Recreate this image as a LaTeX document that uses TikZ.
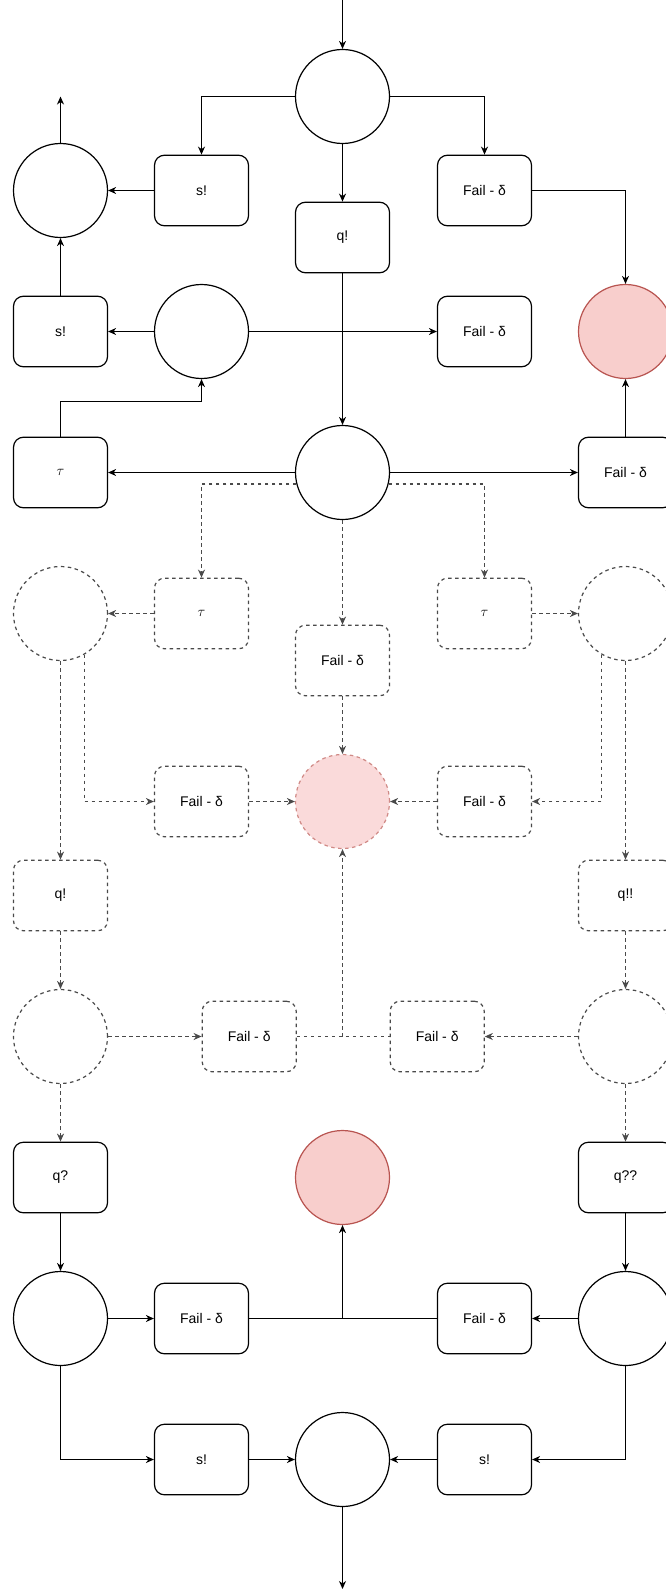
\documentclass[tikz,border=0pt]{standalone}
\usepackage{fontspec}
\setmainfont{Liberation Sans}
\usetikzlibrary{arrows.meta}

\definecolor{redfill}{HTML}{F8CECC}
\definecolor{redline}{HTML}{B85450}
\definecolor{softfill}{HTML}{FADADA}
\definecolor{softline}{HTML}{D08A86}
\definecolor{dashgray}{HTML}{4A4A4A}

\begin{document}
\begin{tikzpicture}[x=1pt,y=-1pt,
  every node/.style={font=\fontsize{14pt}{16pt}\selectfont, text=black},
  state/.style={circle, draw, line width=1.2pt, minimum size=94pt, inner sep=0pt, fill=white},
  act/.style={rectangle, draw, rounded corners=10pt, line width=1.2pt,
              minimum width=94pt, minimum height=70.6pt, inner sep=0pt, fill=white},
  failstate/.style={state, draw=redline, fill=redfill},
  ghoststate/.style={state, draw=dashgray, dash pattern=on 3.5pt off 3.5pt},
  ghostact/.style={act, draw=dashgray, dash pattern=on 3.5pt off 3.5pt},
  ghostfail/.style={state, draw=softline, fill=softfill, dash pattern=on 3.5pt off 3.5pt},
  link/.style={line width=1.2pt, -{Stealth[length=8pt,width=7pt,inset=2.5pt]}},
  wire/.style={line width=1.2pt},
  glink/.style={link, draw=dashgray, dash pattern=on 3.5pt off 3.5pt},
  gwire/.style={wire, draw=dashgray, dash pattern=on 3.5pt off 3.5pt}
]
\useasboundingbox (0,0) rectangle (666,1589);
\clip (0,0) rectangle (666,1589);

% ---- upper part (solid) ----
\node[state] (c0) at (342.5,96.5) {};
\node[act]   (sA) at (201.5,190.5) {s!};
\node[state] (L1) at (60.5,190.5) {};
\node[act]   (qA) at (342.5,237.5) {q!};
\node[act]   (fA) at (484.5,190.5) {Fail - δ};
\node[act]   (sB) at (60.5,331.5) {s!};
\node[state] (c1) at (201.5,331.5) {};
\node[act]   (fB) at (484.5,331.5) {Fail - δ};
\node[failstate] (redA) at (625.5,331.5) {};
\node[act]   (tA) at (60.5,472.5) {$\tau$};
\node[state] (c2) at (342.5,472.5) {};
\node[act]   (fC) at (625.5,472.5) {Fail - δ};

% ---- middle part (dashed) ----
\node[ghostact]   (tB) at (201.5,613.5) {$\tau$};
\node[ghoststate] (dL) at (60.5,613.5) {};
\node[ghostact]   (fD) at (342.5,660.5) {Fail - δ};
\node[ghostact]   (tC) at (484.5,613.5) {$\tau$};
\node[ghoststate] (dR) at (625.5,613.5) {};
\node[ghostact]   (fE) at (201.5,801.5) {Fail - δ};
\node[ghostfail]  (redB) at (342.5,801.5) {};
\node[ghostact]   (fF) at (484.5,801.5) {Fail - δ};
\node[ghostact]   (qB) at (60.5,895.5) {q!};
\node[ghostact]   (qC) at (625.5,895.5) {q!!};
\node[ghoststate] (dL2) at (60.5,1036.5) {};
\node[ghostact]   (fG) at (249.2,1036.5) {Fail - δ};
\node[ghostact]   (fH) at (437.2,1036.5) {Fail - δ};
\node[ghoststate] (dR2) at (625.5,1036.5) {};

% ---- lower part (solid) ----
\node[act]   (qD) at (60.5,1177.5) {q?};
\node[failstate] (redC) at (342.5,1177.5) {};
\node[act]   (qE) at (625.5,1177.5) {q??};
\node[state] (L8) at (60.5,1318.5) {};
\node[act]   (fI) at (201.5,1318.5) {Fail - δ};
\node[act]   (fJ) at (484.5,1318.5) {Fail - δ};
\node[state] (R8) at (625.5,1318.5) {};
\node[act]   (sC) at (201.5,1459.5) {s!};
\node[state] (c9) at (342.5,1459.5) {};
\node[act]   (sD) at (484.5,1459.5) {s!};

% free ends and junctions
\coordinate (src)   at (342.5,0);
\coordinate (exitL) at (60.5,96.5);
\coordinate (sink)  at (342.5,1589);
\coordinate (jA)    at (342.5,1036.5);
\coordinate (jB)    at (342.5,1318.5);

% ---- solid connectors, top ----
\draw[link] (src) -- (c0);
\draw[link] (c0) -| (sA);
\draw[link] (c0) -| (fA);
\draw[link] (c0) -- (qA);
\draw[link] (sA) -- (L1);
\draw[link] (L1) -- (exitL);
\draw[link] (sB) -- (L1);
\draw[link] (c1) -- (sB);
\draw[link] (c1) -- (fB);
\draw[link] (qA) -- (c2);
\draw[link] (tA.north) -- ++(0,-35) -| (c1.south);
\draw[link] (c2) -- (tA);
\draw[link] (c2) -- (fC);
\draw[link] (fC) -- (redA);
\draw[link] (fA.east) -| (redA.north);

% ---- dashed connectors ----
\draw[glink] (c2.194.6) -| (tB.north);
\draw[glink] (c2.-14.6) -| (tC.north);
\draw[glink] (c2) -- (fD);
\draw[glink] (tB) -- (dL);
\draw[glink] (tC) -- (dR);
\draw[glink] (fD) -- (redB);
\draw[glink] (dL.-60) |- (fE.west);
\draw[glink] (dR.240) |- (fF.east);
\draw[glink] (fE) -- (redB);
\draw[glink] (fF) -- (redB);
\draw[glink] (dL) -- (qB);
\draw[glink] (qB) -- (dL2);
\draw[glink] (dR) -- (qC);
\draw[glink] (qC) -- (dR2);
\draw[glink] (dL2) -- (fG);
\draw[glink] (dR2) -- (fH);
\draw[gwire] (fG) -- (jA) -- (fH);
\draw[glink] (jA) -- (redB);
\draw[glink] (dL2) -- (qD);
\draw[glink] (dR2) -- (qE);

% ---- solid connectors, bottom ----
\draw[link] (qD) -- (L8);
\draw[link] (qE) -- (R8);
\draw[link] (L8) -- (fI);
\draw[link] (R8) -- (fJ);
\draw[wire] (fI) -- (jB) -- (fJ);
\draw[link] (jB) -- (redC);
\draw[link] (L8.south) |- (sC.west);
\draw[link] (R8.south) |- (sD.east);
\draw[link] (sC) -- (c9);
\draw[link] (sD) -- (c9);
\draw[link] (c9) -- (sink);
\end{tikzpicture}
\end{document}
